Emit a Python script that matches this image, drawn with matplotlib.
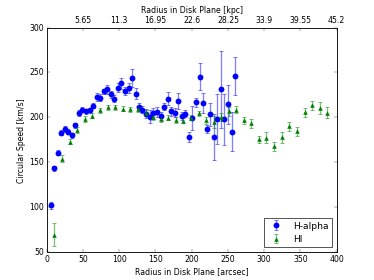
import matplotlib
matplotlib.use("Agg")
import matplotlib.pyplot as plt

# H-alpha rotation curve
ha_r = [5.5, 9.7, 15, 19.4, 25, 30, 34.6, 39.6, 44, 49, 54, 59, 64, 68.7, 73.7,
        78.8, 83.4, 88.5, 93, 98, 102.8, 107.8, 113, 118, 122.6, 127.6, 132, 137,
        142, 147, 152, 157, 162, 166.8, 172, 176.5, 181.6, 186.6, 191, 196, 201,
        206, 211, 215.7, 220.7, 225.8, 230.4, 235.5, 240.5, 245, 250, 255, 260]
ha_v = [102, 143, 160.5, 183, 187, 184, 180, 191, 205, 208.5, 206.6, 207.7, 213,
        222.6, 222, 229, 231.5, 225.6, 220.8, 233, 238, 229.3, 232.7, 243.5, 226.3,
        211.5, 208.5, 204, 200.7, 204.4, 206, 201.4, 211.8, 220.8, 206.6, 205,
        218.5, 201.4, 204, 178, 199.2, 216.7, 245.3, 216.3, 187, 203.3, 178,
        198.4, 231, 197.7, 214.4, 184, 246]
ha_err = [4, 3, 3, 3, 3, 3, 3, 3, 3, 3, 3, 3, 3, 4, 4, 3, 5, 4, 4, 5, 6, 5, 6, 10,
          6, 4, 4, 5, 7, 6, 6, 4, 4, 7, 5, 5, 9, 4, 4, 6, 13, 5, 15, 11, 4, 13, 26,
          28, 43, 28, 22, 22, 21]

# HI rotation curve
hi_r = [10.6, 20.7, 31.8, 42.4, 52.5, 63, 73.3, 83.9, 94, 104.6, 115, 125.8,
        136.4, 147, 157, 167.7, 178, 188.5, 199, 209.7, 219.8, 230.4, 241, 251,
        261.7, 272.4, 282.5, 293, 303, 313.8, 324.4, 335, 345, 355.8, 366.4,
        376.5, 387]
hi_v = [69.4, 153.8, 172.8, 185.8, 198, 202, 207.7, 211, 211, 209.6, 208.9, 209.2,
        205, 200.3, 197.7, 199.6, 197, 196.2, 199.6, 204.4, 196.6, 195, 200.3,
        207, 208.5, 196.6, 193.6, 175.7, 177.2, 168, 177.6, 190, 184.3, 205.8,
        213.3, 210.3, 205]
hi_err = [13, 4, 3, 3, 3, 3, 3, 3, 3, 3, 3, 3, 3, 3, 3, 3, 3, 3, 3, 3, 4, 7, 4, 5,
          4, 4, 5, 4, 6, 5, 6, 5, 5, 5, 5, 7, 6]

top_ticks = [50, 100, 150, 200, 250, 300, 350, 400]
top_labels = ["5.65", "11.3", "16.95", "22.6", "28.25", "33.9", "39.55", "45.2"]

plt.style.use("classic")
plt.rcParams["font.size"] = 12
fig = plt.figure(figsize=(8, 6), dpi=46.75)
ax = fig.add_subplot(111)

def err_plot(x, y, e, fmt, lab, ms):
    c = ax.errorbar(x, y, yerr=e, fmt=fmt, label=lab, capsize=3, elinewidth=2,
                    capthick=1.5, markeredgecolor="none", markersize=ms)
    for art in list(c[1]) + list(c[2]):
        art.set_alpha(0.5)
    return c

err_plot(ha_r, ha_v, ha_err, "bo", "H-alpha", 9)
err_plot(hi_r, hi_v, hi_err, "g^", "HI", 7)

ax.set_xlim(0, 400)
ax.set_ylim(50, 300)
ax.set_xlabel("Radius in Disk Plane [arcsec]", fontsize=12)
ax.set_ylabel("Circular Speed [km/s]", fontsize=12)
ax.tick_params(labelsize=12, top=False)
leg = ax.legend(loc="lower right", numpoints=1, fontsize=14)

ax2 = ax.twiny()
ax2.set_xlim(0, 400)
ax2.set_xticks(top_ticks)
ax2.set_xticklabels(top_labels)
ax2.tick_params(labelsize=12)
ax2.set_xlabel("Radius in Disk Plane [kpc]", fontsize=12)

fig.savefig("out.png", dpi=46.75)
